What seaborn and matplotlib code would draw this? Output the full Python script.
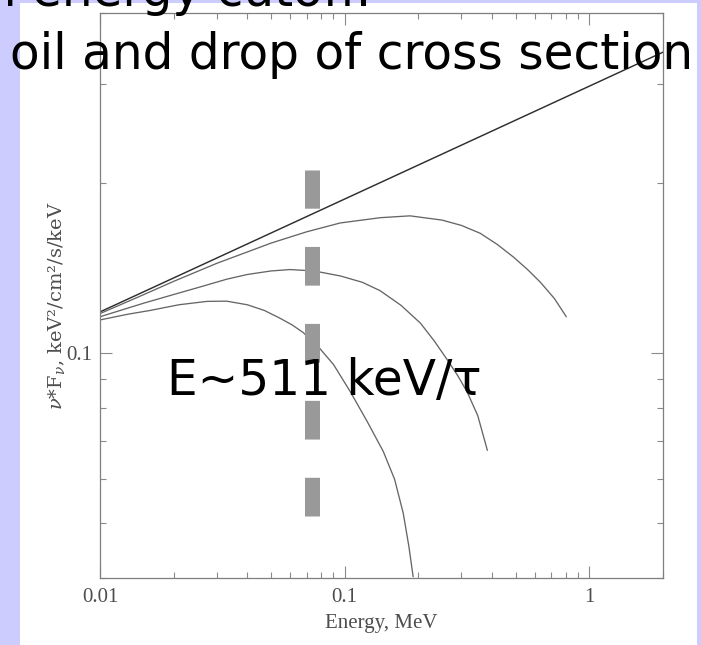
import numpy as np
import pandas as pd
import matplotlib
matplotlib.use("Agg")
import matplotlib.pyplot as plt
from matplotlib.patches import Rectangle
from matplotlib.ticker import FixedLocator, FixedFormatter, LogLocator, NullFormatter
import seaborn as sns

# nu*F_nu spectra (keV^2/cm^2/s/keV) against photon energy (MeV)
power_law_energy = [0.01, 2.0]
power_law_flux = [0.1183, 0.341]

cutoff_hi_energy = [0.01, 0.015, 0.02, 0.03, 0.05, 0.07, 0.0959, 0.14, 0.185, 0.25,
                    0.30, 0.358, 0.42, 0.489, 0.56, 0.631, 0.72, 0.805]
cutoff_hi_flux = [0.1175, 0.1268, 0.134, 0.1442, 0.1566, 0.164, 0.170, 0.1737, 0.175, 0.172,
                  0.1683, 0.163, 0.1558, 0.148, 0.1405, 0.1335, 0.1249, 0.116]

cutoff_mid_energy = [0.01, 0.015, 0.02, 0.0257, 0.033, 0.04, 0.05, 0.0598, 0.075, 0.0959,
                     0.118, 0.1396, 0.17, 0.204, 0.232, 0.262, 0.29, 0.317, 0.35, 0.383]
cutoff_mid_flux = [0.116, 0.1225, 0.127, 0.131, 0.1352, 0.1378, 0.1398, 0.1406, 0.1398, 0.137,
                   0.1335, 0.129, 0.1215, 0.113, 0.1052, 0.0975, 0.0912, 0.0853, 0.0775, 0.0673]

cutoff_lo_energy = [0.01, 0.013, 0.016, 0.021, 0.0274, 0.033, 0.04, 0.047, 0.0544, 0.061,
                    0.0676, 0.0772, 0.09, 0.1054, 0.124, 0.1438, 0.16, 0.1735, 0.183, 0.1905]
cutoff_lo_flux = [0.1145, 0.1172, 0.119, 0.1218, 0.1235, 0.1236, 0.1218, 0.119, 0.1153, 0.1122,
                  0.1088, 0.1032, 0.0955, 0.0855, 0.0755, 0.067, 0.0598, 0.0521, 0.0455, 0.0402]

x_major_ticks = [0.01, 0.1, 1]
x_major_labels = ["0.01", "0.1", "1"]
y_major_ticks = [0.1]
y_major_labels = ["0.1"]

bar_energy = 0.0733  # position of the 511 keV/tau marker

series = [
    ("power law", power_law_energy, power_law_flux, "#2e2e2e", 1.05),
    ("high cutoff", cutoff_hi_energy, cutoff_hi_flux, "#666666", 0.95),
    ("mid cutoff", cutoff_mid_energy, cutoff_mid_flux, "#666666", 0.95),
    ("low cutoff", cutoff_lo_energy, cutoff_lo_flux, "#666666", 0.95),
]
df = pd.concat(
    [pd.DataFrame({"energy": e, "flux": f, "spectrum": name}) for name, e, f, _, _ in series],
    ignore_index=True,
)

sns.set_theme(style="white")
plt.rcParams["font.family"] = ["Liberation Serif", "DejaVu Serif"]
plt.rcParams["mathtext.fontset"] = "custom"
plt.rcParams["mathtext.rm"] = "DejaVu Serif"
plt.rcParams["mathtext.it"] = "DejaVu Serif:italic"

W, H = 701, 645
fig = plt.figure(figsize=(W / 100, H / 100), dpi=100)
fig.patch.set_facecolor("#ccccff")

# white panel that holds the plot
panel = Rectangle((20 / W, 0), 677 / W, (H - 3) / H, transform=fig.transFigure,
                  facecolor="white", edgecolor="none", zorder=-5)
fig.add_artist(panel)

ax = fig.add_axes([100 / W, 1 - 578 / H, 563 / W, 565 / H])
ax.set_facecolor("white")
ax.set_xscale("log")
ax.set_yscale("log")

for name, _, _, color, lw in series:
    sns.lineplot(data=df[df["spectrum"] == name], x="energy", y="flux",
                 color=color, linewidth=lw, ax=ax, legend=False, zorder=2)

ax.set_xlim(0.01, 2.0)
ax.set_ylim(0.04, 0.4)

ax.xaxis.set_major_locator(FixedLocator(x_major_ticks))
ax.xaxis.set_major_formatter(FixedFormatter(x_major_labels))
ax.xaxis.set_minor_locator(LogLocator(base=10, subs=np.arange(2, 10), numticks=20))
ax.xaxis.set_minor_formatter(NullFormatter())
ax.yaxis.set_major_locator(FixedLocator(y_major_ticks))
ax.yaxis.set_major_formatter(FixedFormatter(y_major_labels))
ax.yaxis.set_minor_locator(LogLocator(base=10, subs=np.arange(2, 10), numticks=20))
ax.yaxis.set_minor_formatter(NullFormatter())

ax.tick_params(which="both", direction="in", bottom=True, left=True, top=True, right=True,
               color="#8a8a8a", width=0.8, labelsize=15, labelcolor="#4d4d4d")
ax.tick_params(which="major", length=8.6)
ax.tick_params(which="minor", length=4.3)
ax.tick_params(axis="x", which="major", pad=7.0)
ax.tick_params(axis="y", which="major", pad=5.8)

for sp in ax.spines.values():
    sp.set_color("#7f7f7f")
    sp.set_linewidth(0.9)

ax.set_xlabel("Energy, MeV", fontsize=15, color="#4d4d4d")
ax.xaxis.set_label_coords(0.5, -0.063)
ax.set_ylabel(r"$\nu$*F$_\nu$, keV²/cm²/s/keV", fontsize=14, color="#4d4d4d",
              family=["DejaVu Serif"])
ax.yaxis.set_label_coords(-0.0764, 0.481)
ax.yaxis.label.set_va("center")
ax.grid(False)

# dashed marker at E ~ 511 keV / tau
ax.axvline(bar_energy, ymin=(578 - 516) / 565, ymax=(578 - 170) / 565,
           color="#999999", linewidth=10.8, linestyle=(0, (2.58, 2.55)), zorder=3)

# slide text over the plot
slide_font = dict(family=["DejaVu Sans"], color="black", fontsize=35)
fig.text(-95 / W, 1 - 6 / H, "High energy cutoff:", ha="left", va="baseline", **slide_font)
fig.text(693 / W, 1 - 69 / H, "oil and drop of cross section", ha="right", va="baseline", **slide_font)
fig.text(324.5 / W, 1 - 395 / H, "E~511 keV/τ", ha="center", va="baseline", **slide_font)

fig.savefig("out.png", dpi=100, facecolor=fig.get_facecolor())
